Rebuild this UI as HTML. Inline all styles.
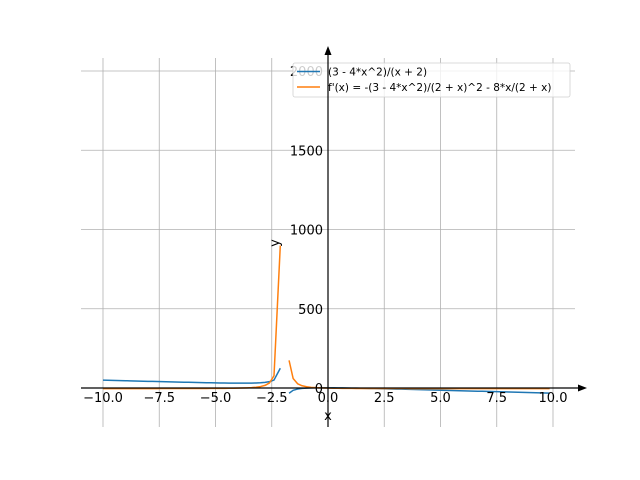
<!DOCTYPE html>
<html><head><meta charset="utf-8"><style>
html,body{margin:0;padding:0;background:#fff;}
svg{display:block;font-family:"DejaVu Sans","Liberation Sans",sans-serif;}
</style></head><body>
<svg id="s" width="640" height="480" viewBox="0 0 640 480" xmlns="http://www.w3.org/2000/svg">
<g stroke="#b0b0b0" stroke-width="0.8" fill="none">
<line x1="103" y1="58" x2="103" y2="427"/>
<line x1="159.25" y1="58" x2="159.25" y2="427"/>
<line x1="215.5" y1="58" x2="215.5" y2="427"/>
<line x1="271.75" y1="58" x2="271.75" y2="427"/>
<line x1="328" y1="58" x2="328" y2="427"/>
<line x1="384.25" y1="58" x2="384.25" y2="427"/>
<line x1="440.5" y1="58" x2="440.5" y2="427"/>
<line x1="496.75" y1="58" x2="496.75" y2="427"/>
<line x1="553" y1="58" x2="553" y2="427"/>
<line x1="81" y1="388" x2="575" y2="388"/>
<line x1="81" y1="308.75" x2="575" y2="308.75"/>
<line x1="81" y1="229.5" x2="575" y2="229.5"/>
<line x1="81" y1="150.25" x2="575" y2="150.25"/>
<line x1="81" y1="71" x2="575" y2="71"/>
</g>
<g id="curves" fill="none" stroke-width="1.5" stroke-linejoin="round"></g>
<g font-size="13px" fill="#000">
<g text-anchor="middle">
<text x="103" y="402">−10.0</text><text x="159.25" y="402">−7.5</text><text x="215.5" y="402">−5.0</text><text x="271.75" y="402">−2.5</text><text x="328" y="402">0.0</text><text x="384.25" y="402">2.5</text><text x="440.5" y="402">5.0</text><text x="496.75" y="402">7.5</text><text x="553" y="402">10.0</text>
</g>
<g text-anchor="end">
<text x="323" y="393">0</text><text x="323" y="313.75">500</text><text x="323" y="234.5">1000</text><text x="323" y="155.25">1500</text><text x="323" y="76">2000</text>
</g>
<text x="328" y="420" text-anchor="middle">x</text>
<text transform="translate(279,243) rotate(-90)" text-anchor="middle">y</text>
</g>
<g>
<rect x="293" y="63" width="277" height="34" rx="2" fill="#fff" fill-opacity="0.8" stroke="#d0d0d0" stroke-width="0.8"/>
<line x1="297" y1="71.5" x2="320" y2="71.5" stroke="#1f77b4" stroke-width="1.5"/>
<line x1="297" y1="87" x2="320" y2="87" stroke="#ff7f0e" stroke-width="1.5"/>
<text x="328" y="75.5" font-size="10.5px">(3 - 4*x^2)/(x + 2)</text>
<text x="328" y="91" font-size="10.5px">f'(x) = -(3 - 4*x^2)/(2 + x)^2 - 8*x/(2 + x)</text>
</g>
<line x1="328" y1="50" x2="328" y2="427" stroke="#000" stroke-width="1.2"/>
<line x1="81" y1="388" x2="583" y2="388" stroke="#000" stroke-width="1.2"/>
<polygon points="328,46 324.5,55 331.5,55" fill="#000"/>
<polygon points="587,388 578,384.5 578,391.5" fill="#000"/>
</svg>
<script>
var X=function(x){return 328+x*22.5;}, Y=function(y){return 388-y*0.1585;};
function f(x){return (3-4*x*x)/(x+2);}
function g(x){return -(3-4*x*x)/Math.pow(2+x,2)-8*x/(2+x);}
function seg(fn,xs){return xs.map(function(x,i){return (i?'L':'M')+X(x).toFixed(2)+','+Y(fn(x)).toFixed(2);}).join('');}
var L=[],R=[];
for(var x=-10;x<=-2.25;x+=0.2)L.push(x);L.push(-2.12);
R.push(-1.73);for(var x=-1.55;x<=10.001;x+=0.2)R.push(x);
var h='';
h+='<path stroke="#1f77b4" d="'+seg(f,L)+'"/><path stroke="#1f77b4" d="'+seg(f,R)+'"/>';
h+='<path stroke="#ff7f0e" d="'+seg(g,L)+'"/><path stroke="#ff7f0e" d="'+seg(g,R)+'"/>';
document.getElementById('curves').innerHTML=h;
</script>
</body></html>
